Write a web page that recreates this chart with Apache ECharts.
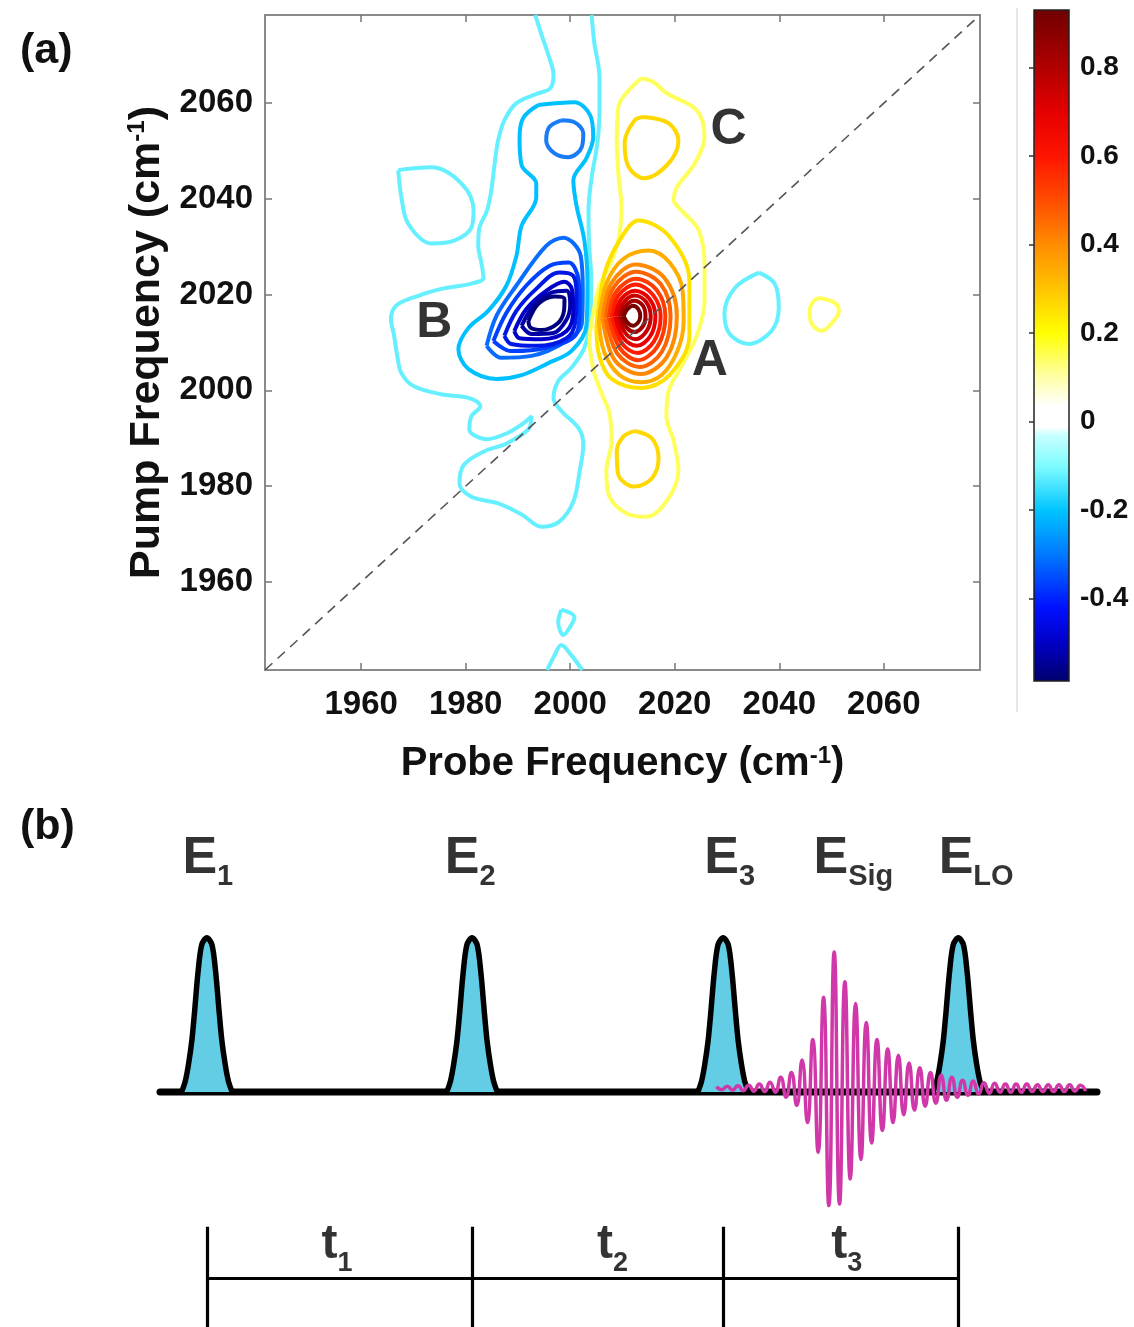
<!DOCTYPE html>
<html>
<head>
<meta charset="utf-8">
<title>2D IR spectrum and pulse sequence</title>
<script src="https://cdn.jsdelivr.net/npm/echarts@6/dist/echarts.min.js"></script>
<style>
  html, body { margin: 0; padding: 0; background: #fff; }
  #main { width: 1134px; height: 1327px; }
</style>
</head>
<body>
<div id="main"></div>
<script>
// ---------- panel (a): 2D IR spectrum (all contour points in cm-1) ----------
const freqRange = [1941.6, 2078.4];
const freqTicks = [1960, 1980, 2000, 2020, 2040, 2060];
const cbarRange = [-0.586, 0.93];
const cbarTicks = [-0.4, -0.2, 0, 0.2, 0.4, 0.6, 0.8];
const cmapValues = [-0.586, -0.5, -0.42, -0.3, -0.2, -0.1, -0.03, -0.012, 0.035, 0.1, 0.2, 0.3, 0.4, 0.5, 0.6, 0.7, 0.8, 0.93];
const cmapColors = ['#00006c', '#0000c4', '#0010ff', '#0078ff', '#00c4ff', '#7ffcff', '#c8ffff', '#ffffff', '#ffffff', '#ffffa8', '#ffff00', '#ffc400', '#ff8c00', '#ff4c00', '#ff1400', '#e40000', '#b00000', '#700000'];

// level -0.1
const negOuter = [[1993.3,2078.4],[1994.5,2074.3],[1995.8,2070.1],[1996.8,2065.9],[1996.2,2063.1],[1993.5,2061.9],[1989.7,2060.0],[1987.4,2056.4],[1986.2,2052.2],[1985.5,2047.0],[1984.9,2041.8],[1984.1,2037.6],[1982.6,2033.8],[1982.4,2030.2],[1983.0,2026.7],[1983.4,2023.5],[1981.1,2022.3],[1975.3,2021.2],[1970.2,2019.5],[1966.7,2017.7],[1965.7,2014.9],[1966.3,2011.4],[1966.9,2007.2],[1967.7,2003.6],[1970.0,2000.9],[1975.3,1999.2],[1980.7,1998.4],[1982.8,1996.7],[1981.1,1994.6],[1980.7,1991.9],[1984.0,1989.8],[1987.8,1991.0],[1991.0,1993.1],[1992.6,1994.6],[1992.0,1991.9],[1987.8,1988.9],[1983.6,1987.3],[1979.7,1984.5],[1978.8,1980.6],[1981.1,1977.8],[1986.2,1976.4],[1990.7,1974.1],[1994.5,1971.5],[1997.9,1972.6],[2000.6,1976.8],[2001.8,1983.1],[2002.5,1988.7],[2001.6,1992.1],[1998.3,1995.7],[1996.8,1998.4],[1997.7,2001.9],[2000.2,2004.7],[2002.7,2008.9],[2003.9,2015.5],[2004.0,2023.5],[2003.6,2030.7],[2003.5,2037.6],[2004.1,2044.5],[2005.2,2051.6],[2005.6,2058.5],[2005.6,2065.4],[2004.6,2072.6],[2004.1,2078.4]];
const negLeftLoop = [[1967.1,2046.0],[1973.4,2046.6],[1979.2,2043.2],[1981.5,2037.6],[1981.1,2034.0],[1977.8,2031.3],[1973.4,2030.7],[1969.0,2034.8],[1967.7,2040.3]];
const negRightLoop = [[2036.1,2024.6],[2039.1,2022.3],[2039.9,2017.2],[2038.5,2012.4],[2034.1,2009.7],[2030.5,2011.8],[2029.5,2016.0],[2031.5,2021.4]];
const negBottomTri = [[1998.3,1954.2],[2000.8,1952.7],[2000.2,1951.0],[1998.7,1948.9],[1997.7,1951.6]];
const negBottomArch = [[1995.6,1941.6],[1997.0,1944.7],[1998.3,1946.8],[2000.2,1944.7],[2002.3,1941.6]];
// level -0.2
const negMid = [[1993.9,2059.6],[2000.8,2060.2],[2003.8,2057.5],[2004.4,2052.9],[2003.1,2048.5],[2000.6,2043.9],[2001.2,2038.6],[2002.7,2031.3],[2003.3,2022.9],[2003.1,2013.5],[2000.2,2008.2],[1995.8,2005.7],[1990.7,2003.2],[1985.9,2002.4],[1980.5,2004.5],[1978.6,2008.6],[1980.5,2013.0],[1984.3,2016.6],[1987.8,2021.9],[1989.7,2028.1],[1990.7,2034.4],[1993.5,2040.3],[1993.5,2043.2],[1990.7,2047.0],[1990.3,2052.7],[1991.0,2056.9]];
// level -0.3 and below
const negTopSpot = [[1998.3,2056.4],[2000.8,2056.0],[2002.5,2053.7],[2002.2,2050.8],[1999.7,2048.7],[1997.0,2049.5],[1995.4,2052.2],[1996.0,2055.0]];
const negB1 = [[1984.0,2009.3],[1985.9,2015.6],[1989.7,2021.9],[1995.4,2030.2],[1998.7,2031.9],[2002.0,2028.1],[2002.4,2020.8],[2002.2,2013.8],[1999.3,2010.3],[1992.6,2007.2],[1986.8,2006.8]];
const negB2 = [[1985.3,2010.3],[1987.8,2016.2],[1991.6,2021.9],[1996.0,2026.0],[1999.7,2026.7],[2001.6,2023.0],[2001.8,2017.0],[2001.2,2011.8],[1995.4,2008.9],[1988.7,2008.2]];
const negB3 = [[1987.4,2011.4],[1989.7,2016.6],[1993.5,2021.2],[1997.9,2024.6],[2000.6,2023.9],[2001.2,2019.8],[2001.0,2014.5],[1999.3,2010.9],[1993.5,2009.3],[1988.7,2009.7]];
const negB4 = [[1989.3,2012.4],[1991.6,2017.0],[1995.4,2020.8],[1998.9,2022.7],[2000.3,2021.2],[2000.6,2016.8],[1999.3,2012.4],[1994.5,2010.7],[1990.3,2010.9]];
const negB5 = [[1990.7,2013.5],[1993.0,2017.7],[1996.4,2020.4],[1999.3,2020.8],[2000.0,2018.0],[1999.3,2014.8],[1996.8,2012.0],[1992.6,2011.8]];
const negB6 = [[1992.0,2014.5],[1993.9,2018.1],[1997.0,2019.6],[1998.9,2019.1],[1998.8,2016.6],[1997.5,2013.9],[1994.5,2012.6],[1992.4,2013.1]];
// level +0.1
const posOuter = [[2013.6,2065.2],[2009.2,2059.2],[2008.9,2052.2],[2009.2,2045.3],[2009.8,2038.2],[2009.2,2031.3],[2007.5,2026.0],[2005.6,2021.9],[2004.5,2016.6],[2003.7,2010.3],[2004.5,2004.0],[2006.0,1999.4],[2007.5,1995.2],[2007.9,1989.4],[2006.9,1983.1],[2007.5,1977.8],[2010.8,1974.3],[2014.6,1973.6],[2018.4,1976.8],[2020.7,1983.1],[2019.8,1989.4],[2018.4,1994.6],[2018.8,1999.8],[2021.3,2005.1],[2024.2,2011.4],[2025.7,2018.7],[2025.7,2026.0],[2024.6,2033.4],[2021.3,2037.6],[2019.8,2039.7],[2020.4,2042.4],[2023.8,2047.4],[2025.7,2052.9],[2024.2,2058.5],[2018.4,2062.1],[2015.9,2064.4]];
const posFarRight = [[2047.6,2019.3],[2050.6,2018.3],[2051.4,2016.6],[2050.4,2014.5],[2048.1,2012.4],[2046.2,2013.9],[2045.8,2016.6],[2046.6,2018.7]];
// level +0.2
const posTopC = [[2014.2,2057.1],[2018.8,2055.8],[2020.7,2052.2],[2018.8,2047.4],[2014.2,2044.3],[2011.2,2046.6],[2010.4,2051.6],[2012.3,2056.4]];
const posBottom = [[2012.3,1991.5],[2015.6,1990.0],[2016.9,1985.8],[2015.6,1981.6],[2012.3,1979.9],[2009.2,1982.4],[2008.9,1987.3],[2010.2,1990.4]];
const posA1 = [[2005.0,2013.0],[2006.6,2024.5],[2009.6,2031.6],[2013.1,2035.5],[2019.0,2032.1],[2022.8,2022.9],[2022.8,2011.4],[2019.0,2003.2],[2013.6,2000.5],[2007.9,2002.4],[2005.6,2007.0]];
// level +0.3 and above
const posA2 = [[2005.5,2014.3],[2006.9,2022.3],[2010.2,2027.5],[2015.0,2029.2],[2019.0,2026.7],[2021.5,2020.8],[2021.7,2014.5],[2020.5,2008.2],[2017.5,2003.2],[2013.6,2001.7],[2009.4,2003.2],[2006.5,2008.0]];
const posA3 = [[2006.2,2015.0],[2007.8,2022.3],[2012.5,2026.3],[2018.0,2023.5],[2020.4,2015.5],[2018.5,2007.0],[2013.5,2003.4],[2008.4,2006.5]];
const posA4 = [[2006.8,2015.0],[2008.3,2021.5],[2012.6,2024.8],[2017.3,2022.2],[2019.2,2015.5],[2017.5,2008.0],[2013.3,2004.9],[2009.0,2007.7]];
const posA5 = [[2007.4,2015.2],[2008.8,2020.6],[2012.6,2023.3],[2016.5,2021.0],[2018.2,2015.5],[2016.7,2009.2],[2013.0,2006.3],[2009.5,2008.8]];
const posA6 = [[2008.0,2015.3],[2009.2,2019.8],[2012.5,2022.1],[2015.8,2020.0],[2017.3,2015.5],[2016.0,2010.2],[2012.9,2007.8],[2009.9,2009.8]];
const posA7 = [[2008.6,2015.4],[2009.7,2019.0],[2012.4,2020.8],[2015.1,2019.2],[2016.3,2015.5],[2015.3,2011.3],[2012.7,2009.3],[2010.2,2010.9]];
const posA8 = [[2009.2,2015.4],[2010.2,2018.3],[2012.3,2019.8],[2014.5,2018.5],[2015.4,2015.4],[2014.6,2012.4],[2012.5,2010.7],[2010.6,2011.9]];
const posA9 = [[2009.7,2015.4],[2010.6,2017.6],[2012.2,2018.7],[2013.9,2017.7],[2014.4,2015.4],[2013.9,2013.4],[2012.3,2012.2],[2010.9,2013.0]];
const posA10 = [[2010.2,2015.5],[2010.9,2016.9],[2012.0,2017.7],[2013.0,2017.0],[2013.4,2015.5],[2013.0,2014.2],[2012.0,2013.5],[2011.0,2014.1]];

const peakLabels = [[2026.7, 2006.1, 'A'], [1974.0, 2014.1, 'B'], [2030.3, 2054.3, 'C']];

// ---------- panel (b): pulse sequence (time in arbitrary units, field in pulse heights) ----------
const pulseCenters = [5.0, 33.3, 60.1, 85.2];
const pulseDx = [-2.7, -2.3, -1.95, -1.6, -1.3, -0.95, -0.55, 0, 0.55, 0.95, 1.3, 1.6, 1.95, 2.3, 2.7];
const pulseH = [0, 0.07, 0.18, 0.33, 0.52, 0.76, 0.94, 0.985, 0.94, 0.76, 0.52, 0.33, 0.18, 0.07, 0];
const sigStart = 59.39;
const sigStep = 0.571;
const sigOffset = 0.025;
const sigExtrema = [0.01, -0.01, 0.013, -0.013, 0.016, -0.016, 0.019, -0.019, 0.026, -0.022,
  0.038, -0.026, 0.07, -0.058, 0.10, -0.11, 0.18, -0.22, 0.31, -0.41,
  0.58, -0.75, 0.87, -0.74, 0.68, -0.58, 0.54, -0.455, 0.42, -0.35,
  0.31, -0.27, 0.25, -0.22, 0.21, -0.17, 0.16, -0.14, 0.13, -0.115,
  0.10, -0.096, 0.083, -0.077, 0.07, -0.058, 0.051, -0.045, 0.045, -0.038,
  0.035, -0.032, 0.032, -0.026, 0.026, -0.026, 0.026, -0.026, 0.026, -0.022,
  0.022, -0.022, 0.022, -0.022, 0.022, -0.022, 0.022, -0.019, 0.019, -0.019];
const eLabelX = [5.1, 33.1, 60.8, 74.0, 87.1];
const eLabelSubs = ['1', '2', '3', 'Sig', 'LO'];
const eLabelY = 1.47;
const tLabelX = [18.9, 48.3, 73.3];
const tLabelSubs = ['1', '2', '3'];
const tLabelY = -1.0;
const timelineTop = -0.86, timelineBottom = -1.5, timelineBar = -1.19;

const FONT = '"Liberation Sans", Arial, Helvetica, sans-serif';

const chart = echarts.init(document.getElementById('main'));

const contours = [
  [negOuter, '#66f0ff', false], [negLeftLoop, '#66f0ff', true], [negRightLoop, '#66f0ff', true],
  [negBottomTri, '#66f0ff', true], [negBottomArch, '#66f0ff', false],
  [negMid, '#00c0ff', true], [negTopSpot, '#1a7cf5', true],
  [negB1, '#0a6cff', true], [negB2, '#0040ff', true], [negB3, '#0018e6', true],
  [negB4, '#0000c8', true], [negB5, '#0000a8', true], [negB6, '#00007e', true],
  [posOuter, '#ffff5c', true], [posFarRight, '#ffff5c', true],
  [posTopC, '#ffd800', true], [posBottom, '#ffd800', true], [posA1, '#ffe100', true],
  [posA2, '#ffae00', true], [posA3, '#ff8a00', true], [posA4, '#ff6400', true],
  [posA5, '#ff3c00', true], [posA6, '#ff1a00', true], [posA7, '#e80000', true],
  [posA8, '#c80000', true], [posA9, '#a20000', true], [posA10, '#7a0000', true]
];

const series = contours.map(function (c) {
  return {
    type: 'line', xAxisIndex: 0, yAxisIndex: 0,
    data: c[2] ? c[0].concat([c[0][0]]) : c[0],
    smooth: 0.35, symbol: 'none', silent: true, z: 2,
    lineStyle: { color: c[1], width: 4 }
  };
});

series.push({
  type: 'line', xAxisIndex: 0, yAxisIndex: 0, symbol: 'none', silent: true, z: 4,
  data: [[freqRange[0], freqRange[0]], [freqRange[1], freqRange[1]]],
  lineStyle: { color: '#555', width: 1.6, type: [10, 7] }
});

series.push({
  type: 'scatter', xAxisIndex: 0, yAxisIndex: 0, symbolSize: 1, z: 5,
  itemStyle: { color: 'rgba(0,0,0,0)' },
  data: peakLabels,
  label: {
    show: true, position: 'inside', formatter: function (p) { return p.value[2]; },
    fontSize: 50, fontWeight: 'bold', fontFamily: FONT, color: '#000'
  }
});

// colour bar
const cbStops = cmapValues.map(function (v, i) {
  return { offset: Math.min(1, Math.max(0, (cbarRange[1] - v) / (cbarRange[1] - cbarRange[0]))), color: cmapColors[i] };
}).reverse();
series.push({
  type: 'custom', xAxisIndex: 2, yAxisIndex: 2, silent: true, z: 1,
  data: [[0, cbarRange[0], 1, cbarRange[1]]],
  renderItem: function (params, api) {
    const p0 = api.coord([api.value(0), api.value(3)]);
    const p1 = api.coord([api.value(2), api.value(1)]);
    return {
      type: 'rect',
      shape: { x: p0[0], y: p0[1], width: p1[0] - p0[0], height: p1[1] - p0[1] },
      style: { fill: new echarts.graphic.LinearGradient(0, 0, 0, 1, cbStops), stroke: '#222', lineWidth: 1.5 }
    };
  }
});

// panel (b)
series.push({
  type: 'line', xAxisIndex: 3, yAxisIndex: 3, symbol: 'none', silent: true, z: 2,
  data: [[0, 0], [100, 0]],
  lineStyle: { color: '#000', width: 7, cap: 'round' }
});
pulseCenters.forEach(function (c) {
  series.push({
    type: 'line', xAxisIndex: 3, yAxisIndex: 3, symbol: 'none', silent: true, z: 3,
    smooth: 0.3,
    data: pulseDx.map(function (d, i) { return [c + d, pulseH[i]]; }),
    lineStyle: { color: '#000', width: 5.5, join: 'round' },
    areaStyle: { color: '#63cde6', opacity: 1 }
  });
});
series.push({
  type: 'line', xAxisIndex: 3, yAxisIndex: 3, symbol: 'none', silent: true, z: 4,
  smooth: 0.55,
  data: sigExtrema.map(function (a, i) { return [sigStart + i * sigStep, a + sigOffset]; }),
  lineStyle: { color: '#d038aa', width: 3.5 }
});
const timelineSegments = pulseCenters.map(function (c) {
  return { coords: [[c, timelineTop], [c, timelineBottom]] };
});
timelineSegments.push({ coords: [[pulseCenters[0], timelineBar], [pulseCenters[pulseCenters.length - 1], timelineBar]] });
series.push({
  type: 'lines', coordinateSystem: 'cartesian2d', xAxisIndex: 3, yAxisIndex: 3, silent: true, z: 2,
  data: timelineSegments,
  lineStyle: { color: '#000', width: 3.2, opacity: 1 }
});
series.push({
  type: 'scatter', xAxisIndex: 3, yAxisIndex: 3, symbolSize: 1, z: 5,
  itemStyle: { color: 'rgba(0,0,0,0)' },
  data: eLabelX.map(function (x, i) { return [x, eLabelY, eLabelSubs[i]]; }),
  label: {
    show: true, position: 'inside',
    formatter: function (p) { return '{e|E}{s|' + p.value[2] + '}'; },
    rich: {
      e: { fontSize: 52, fontWeight: 'bold', fontFamily: FONT, color: '#000', verticalAlign: 'top', padding: [0, 0, 7, 0] },
      s: { fontSize: 29, fontWeight: 'bold', fontFamily: FONT, color: '#000', verticalAlign: 'bottom' }
    }
  }
});
series.push({
  type: 'scatter', xAxisIndex: 3, yAxisIndex: 3, symbolSize: 1, z: 5,
  itemStyle: { color: 'rgba(0,0,0,0)' },
  data: tLabelX.map(function (x, i) { return [x, tLabelY, tLabelSubs[i]]; }),
  label: {
    show: true, position: 'inside',
    formatter: function (p) { return '{t|t}{s|' + p.value[2] + '}'; },
    rich: {
      t: { fontSize: 48, fontWeight: 'bold', fontFamily: FONT, color: '#000', verticalAlign: 'top', padding: [0, 0, 8, 0] },
      s: { fontSize: 27, fontWeight: 'bold', fontFamily: FONT, color: '#000', verticalAlign: 'bottom' }
    }
  }
});

const frameLine = { show: true, lineStyle: { color: '#8a8a8a', width: 2 } };
const innerTicks = { show: true, inside: true, length: 7, customValues: freqTicks, lineStyle: { color: '#777', width: 1.5 } };
const tickFont = { fontSize: 33, fontWeight: 'bold', fontFamily: FONT, color: '#111', formatter: function (v) { return String(v); } };
const nameRich = {
  a: { fontSize: 40, fontWeight: 'bold', fontFamily: FONT, color: '#111' },
  s: { fontSize: 24, fontWeight: 'bold', fontFamily: FONT, color: '#111', verticalAlign: 'top' }
};

chart.setOption({
  animation: false,
  backgroundColor: '#fff',
  grid: [
    { left: 265, top: 15, width: 715, height: 655 },
    { left: 1034, top: 10, width: 35, height: 671 },
    { left: 160, top: 818, width: 937, height: 509 }
  ],
  xAxis: [
    {
      type: 'value', gridIndex: 0, min: freqRange[0], max: freqRange[1], position: 'bottom',
      axisLine: frameLine, axisTick: innerTicks, splitLine: { show: false },
      axisLabel: Object.assign({ customValues: freqTicks, margin: 18 }, tickFont),
      name: '{a|Probe Frequency (cm}{s|-1}{a|)}', nameLocation: 'middle', nameGap: 74,
      nameTextStyle: { rich: nameRich }
    },
    {
      type: 'value', gridIndex: 0, min: freqRange[0], max: freqRange[1], position: 'top',
      axisLine: frameLine, axisTick: innerTicks, axisLabel: { show: false }, splitLine: { show: false }
    },
    { type: 'value', gridIndex: 1, min: 0, max: 1, show: false },
    { type: 'value', gridIndex: 2, min: 0, max: 100, show: false }
  ],
  yAxis: [
    {
      type: 'value', gridIndex: 0, min: freqRange[0], max: freqRange[1], position: 'left',
      axisLine: frameLine, axisTick: innerTicks, splitLine: { show: false },
      axisLabel: Object.assign({ customValues: freqTicks, margin: 12 }, tickFont),
      name: '{a|Pump Frequency (cm}{s|-1}{a|)}', nameLocation: 'middle', nameGap: 80,
      nameTextStyle: { rich: { a: Object.assign({}, nameRich.a, { fontSize: 43 }), s: nameRich.s } }
    },
    {
      type: 'value', gridIndex: 0, min: freqRange[0], max: freqRange[1], position: 'right',
      axisLine: frameLine, axisTick: innerTicks, axisLabel: { show: false }, splitLine: { show: false }
    },
    {
      type: 'value', gridIndex: 1, min: cbarRange[0], max: cbarRange[1], position: 'right', z: 10,
      axisLine: { show: false }, splitLine: { show: false },
      axisTick: { show: true, inside: true, length: 5, customValues: cbarTicks, lineStyle: { color: '#333', width: 1.5 } },
      axisLabel: {
        customValues: cbarTicks, margin: 11, fontSize: 28, fontWeight: 'bold', fontFamily: FONT, color: '#111',
        formatter: function (v) { return Math.abs(v) < 1e-9 ? '0' : v.toFixed(1); }
      }
    },
    { type: 'value', gridIndex: 2, min: -1.5, max: 1.75, show: false }
  ],
  graphic: [
    { type: 'line', shape: { x1: 1017, y1: 8, x2: 1017, y2: 712 }, style: { stroke: '#e6e6e6', lineWidth: 2 } },
    { type: 'text', left: 20, top: 30, style: { text: '(a)', fontSize: 43, fontWeight: 'bold', fontFamily: FONT, fill: '#111' } },
    { type: 'text', left: 20, top: 806, style: { text: '(b)', fontSize: 43, fontWeight: 'bold', fontFamily: FONT, fill: '#111' } }
  ],
  series: series
});
</script>
</body>
</html>
